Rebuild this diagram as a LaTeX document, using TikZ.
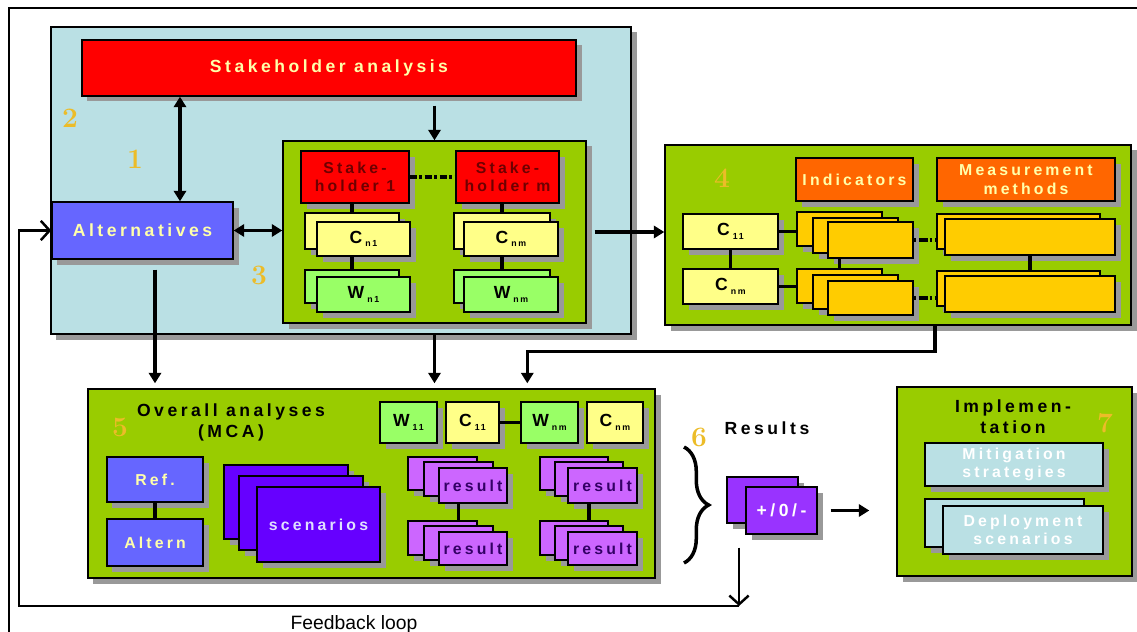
\documentclass[tikz,border=0pt]{standalone}
\usepackage{fontspec}
\setsansfont{Liberation Sans}
\newfontfamily\lsp[LetterSpace=20]{Liberation Sans}
\usetikzlibrary{arrows.meta,shadows,decorations.pathreplacing}
\definecolor{skyfill}{RGB}{186,224,228}
\definecolor{leaf}{RGB}{153,204,0}
\definecolor{altblue}{RGB}{102,102,255}
\definecolor{paleyel}{RGB}{255,255,136}
\definecolor{palegrn}{RGB}{153,255,102}
\definecolor{indorange}{RGB}{255,102,0}
\definecolor{gold}{RGB}{255,204,0}
\definecolor{scenviolet}{RGB}{102,0,255}
\definecolor{reslilac}{RGB}{204,102,255}
\definecolor{pmviolet}{RGB}{153,51,255}
\definecolor{numgold}{RGB}{236,188,40}
\definecolor{sktext}{RGB}{110,0,0}
\definecolor{restext}{RGB}{51,0,102}
\definecolor{lighttxt}{RGB}{255,255,170}
\newcommand\sbs[1]{\,\raisebox{-0.4ex}{\fontsize{5}{5}\selectfont #1}}
\def\blk[#1](#2,#3)(#4,#5)#6#7{\node[box,#1,minimum width={(#4-#2)*0.02cm},minimum height={(#5-#3)*0.02cm}] (#6) at ({(#2+#4)/2},{(#3+#5)/2}) {#7};}
\tikzset{
  box/.style={draw=black, line width=0.8pt, inner sep=0pt, align=center,
    font=\lsp\bfseries\fontsize{9}{10.5}\selectfont,
    drop shadow={shadow xshift=0.11cm, shadow yshift=-0.11cm, fill=black!40, opacity=1}},
  big/.style={font=\lsp\bfseries\fontsize{10}{12}\selectfont},
  num/.style={font=\rmfamily\bfseries\fontsize{16}{16}\selectfont, text=numgold},
  link/.style={line width=1.8pt},
  arr/.style={line width=1.8pt, -{Triangle[length=6pt,width=7pt]}},
  dbl/.style={line width=1.8pt, {Triangle[length=6pt,width=7pt]}-{Triangle[length=6pt,width=7pt]}},
  back/.style={line width=1.4pt, -{Straight Barb[length=5pt,width=11pt]}}
}
\begin{document}
\begin{tikzpicture}[x=0.02cm, y=-0.02cm]
		%%%%% START %%%%%
		\useasboundingbox (0,0) rectangle (1137,632);
		\draw[line width=1.2pt] (9,650) -- (9,8) -- (1150,8);
		
		% stakeholders and alternatives
		\blk[fill=skyfill](51,27)(631,334){sec}{}
		\blk[fill=red, text=lighttxt, big](82,40)(576,96){sha}{Stakeholder analysis}
		\blk[fill=altblue, text=lighttxt, big](52,202)(233,259){alt}{Alternatives}
		\blk[fill=leaf](283,141)(586,323){inner}{}
		\blk[fill=red, text=sktext](301,151)(409,203){sk1}{Stake-\\holder 1}
		\blk[fill=red, text=sktext](456,151)(559,203){skm}{Stake-\\holder m}
		\blk[fill=paleyel](305,213)(399,249){cb1}{}
		\blk[fill=paleyel, big](317,222)(410,256){cn1}{C\sbs{n1}}
		\blk[fill=palegrn](305,270)(399,303){wb1}{}
		\blk[fill=palegrn, big](317,277)(410,312){wn1}{W\sbs{n1}}
		\blk[fill=paleyel](454,213)(550,249){cbm}{}
		\blk[fill=paleyel, big](464,222)(558,256){cnm}{C\sbs{nm}}
		\blk[fill=palegrn](454,270)(550,303){wbm}{}
		\blk[fill=palegrn, big](464,277)(558,312){wnm}{W\sbs{nm}}
		
		\draw[link, dash pattern=on 4pt off 1.5pt on 1.5pt off 1.5pt] (sk1) -- (skm);
		\draw[link] (sk1.south -| cb1.north) -- (cb1.north);
		\draw[link] (cn1.south -| wb1.north) -- (wb1.north);
		\draw[link] (skm.south -| cbm.north) -- (cbm.north);
		\draw[link] (cnm.south -| wbm.north) -- (wbm.north);
		\draw[dbl] ([xshift=0.75cm]alt.north) -- ([xshift=0.75cm]alt.north |- sha.south);
		\draw[dbl] (alt.east) -- (alt.east -| inner.west);
		\draw[arr, shorten <=0.18cm] (sha.south -| inner.north) -- (inner.north);
		
		\node[num] (n2) at (70,118) {2};
		\node[num] (n1) at (135,159) {1};
		\node[num] (n3) at (259,275) {3};
		
		% indicators
		\blk[fill=leaf](665,145)(1131,325){sec4}{}
		\node[num] (n4) at (722,178) {4};
		\blk[fill=indorange, text=lighttxt](796,158)(913,201){ind}{Indicators}
		\blk[fill=indorange, text=lighttxt](937,158)(1115,201){meas}{Measurement\\methods}
		\blk[fill=paleyel, big](683,214)(778,249){c11}{C\sbs{11}}
		\blk[fill=paleyel, big](683,269)(778,304){cnn}{C\sbs{nm}}
		\blk[fill=gold](797,212)(882,246){ia1}{}
		\blk[fill=gold](813,218)(898,253){ia2}{}
		\blk[fill=gold](828,222)(913,258){ia3}{}
		\blk[fill=gold](797,269)(882,303){ib1}{}
		\blk[fill=gold](813,275)(898,309){ib2}{}
		\blk[fill=gold](828,281)(913,315){ib3}{}
		\blk[fill=gold](937,214)(1100,249){ma1}{}
		\blk[fill=gold](945,219)(1115,255){ma2}{}
		\blk[fill=gold](937,271)(1100,306){mb1}{}
		\blk[fill=gold](945,276)(1115,312){mb2}{}
		
		\draw[link] (c11.east) -- (c11.east -| ia1.west);
		\draw[link] (cnn.east) -- (cnn.east -| ib1.west);
		\draw[link] (c11) -- (cnn);
		\draw[link, dash pattern=on 1.5pt off 1.5pt on 5pt off 1pt] (ia3.east) -- (ia3.east -| ma1.west);
		\draw[link, dash pattern=on 1.5pt off 1.5pt on 5pt off 1pt] (ib3.east) -- (ib3.east -| mb1.west);
		\draw[link] (ib1.north |- ia3.south) -- (ib1.north);
		\draw[link] (ma2.south) -- (ma2.south |- mb1.north);
		\draw[arr, shorten <=0.16cm] (inner.east) -- (inner.east -| sec4.west);
		
		% overall analyses
		\blk[fill=leaf](88,389)(655,578){sec5}{}
		\node[num] (n5) at (120,427) {5};
		\node[big, align=center] (mca) at (231,422) {Overall analyses\\(MCA)};
		\blk[fill=altblue, text=lighttxt](107,457)(203,502){ref}{Ref.}
		\blk[fill=altblue, text=lighttxt](107,519)(203,566){altn}{Altern}
		\blk[fill=scenviolet](224,465)(348,539){sc1}{}
		\blk[fill=scenviolet](239,476)(363,550){sc2}{}
		\blk[fill=scenviolet, text=white!88!blue](257,487)(380,562){sc3}{scenarios}
		\blk[fill=palegrn, big](380,402)(437,443){w11}{W\sbs{11}}
		\blk[fill=paleyel, big](446,402)(499,443){cc11}{C\sbs{11}}
		\blk[fill=palegrn, big](521,402)(578,443){wwnm}{W\sbs{nm}}
		\blk[fill=paleyel, big](587,402)(643,443){ccnm}{C\sbs{nm}}
		\blk[fill=reslilac](408,457)(477,490){ra1}{}
		\blk[fill=reslilac](424,462)(493,496){ra2}{}
		\blk[fill=reslilac, text=restext](439,468)(507,503){ra3}{result}
		\blk[fill=reslilac](408,521)(477,555){rb1}{}
		\blk[fill=reslilac](424,526)(493,560){rb2}{}
		\blk[fill=reslilac, text=restext](439,532)(507,565){rb3}{result}
		\blk[fill=reslilac](540,457)(608,490){rc1}{}
		\blk[fill=reslilac](555,462)(623,496){rc2}{}
		\blk[fill=reslilac, text=restext](568,468)(637,503){rc3}{result}
		\blk[fill=reslilac](540,521)(608,555){rd1}{}
		\blk[fill=reslilac](555,526)(623,560){rd2}{}
		\blk[fill=reslilac, text=restext](568,532)(637,565){rd3}{result}
		
		\draw[link] (ref) -- (altn);
		\draw[link] (cc11) -- (wwnm);
		\draw[link] (rb2.north |- ra3.south) -- (rb2.north |- rb1.north);
		\draw[link] (rd2.north |- rc3.south) -- (rd2.north |- rd1.north);
		\draw[arr, shorten <=0.2cm, shorten >=0.1cm] ([xshift=0.25cm]alt.south) -- ([xshift=0.25cm]alt.south |- sec5.north);
		\draw[arr, shorten >=0.1cm] (inner.south |- sec.south) -- (inner.south |- sec5.north);
		\draw[arr, shorten >=0.1cm] ([xshift=0.74cm]sec4.south) -- ++(0,26) -| ([xshift=0.14cm]wwnm.west |- sec5.north);
		
		% results
		\coordinate (br1) at (684,447);
		\coordinate (br2) at (684,563);
		\draw[line width=2pt, decorate, decoration={brace, amplitude=14pt}] (br1) -- (br2);
		\node[num] (n6) at (699,437) {6};
		\node[big] (res) at (767,428) {Results};
		\blk[fill=pmviolet](727,477)(798,523){pm1}{}
		\blk[fill=pmviolet, text=white, big](746,487)(817,534){pm2}{+/0/-}
		
		% implementation
		\blk[fill=leaf](897,387)(1132,576){sec7}{}
		\node[big, align=center] (impl) at (1013,417) {Implemen-\\tation};
		\node[num] (n7) at (1105,423) {7};
		\blk[fill=skyfill, text=white](925,443)(1103,486){miti}{Mitigation\\strategies}
		\blk[fill=skyfill](925,499)(1084,547){dep1}{}
		\blk[fill=skyfill, text=white](943,506)(1103,554){dep2}{Deployment\\scenarios}
		
		\draw[arr, shorten <=0.26cm, shorten >=0.54cm] (pm2.east) -- (pm2.east -| sec7.west);
		
		% feedback loop
		\coordinate (fb) at (739,606);
		\draw[back, shorten <=0.48cm] (pm1.south -| fb) -- (fb);
		\draw[back] (fb) -- (19,606) |- (alt.west);
		\node[font=\sffamily\fontsize{11}{13}\selectfont] (fbl) at (354,624) {Feedback loop};
		%%%%% END %%%%%
\end{tikzpicture}
\end{document}
